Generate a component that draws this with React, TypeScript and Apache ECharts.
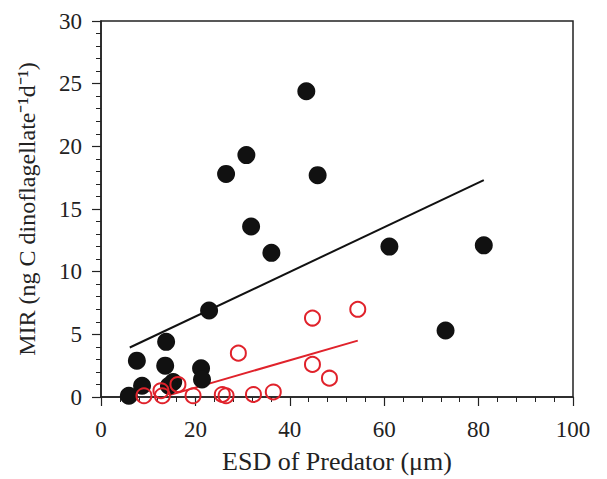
import React, { useEffect, useRef } from "react";
import * as echarts from "echarts";

const xTicks = [0, 20, 40, 60, 80, 100];
const yTicks = [0, 5, 10, 15, 20, 25, 30];

// Black filled circles: [ESD, MIR]
const blackPoints: number[][] = [
  [5.9, 0.1], [7.6, 2.9], [8.7, 0.9], [13.8, 4.4], [13.6, 2.5],
  [15.3, 1.2], [14.4, 0.9], [21.2, 2.3], [21.4, 1.4], [22.9, 6.9],
  [26.5, 17.8], [30.8, 19.3], [31.8, 13.6], [36.1, 11.5], [43.5, 24.4],
  [45.9, 17.7], [61.1, 12.0], [73.0, 5.3], [81.1, 12.1],
];

// Red open circles: [ESD, MIR]
const redPoints: number[][] = [
  [9.1, 0.1], [12.7, 0.5], [13.0, 0.1], [16.3, 1.0], [19.5, 0.1],
  [25.7, 0.2], [26.5, 0.1], [29.1, 3.5], [32.3, 0.2], [36.5, 0.4],
  [44.8, 6.3], [54.4, 7.0], [44.8, 2.6], [48.4, 1.5],
];

// Regression lines (endpoints)
const blackFit: number[][] = [[6.1, 3.95], [81.1, 17.3]];
const redFit: number[][] = [[14.5, 0.15], [54.4, 4.5]];

const FONT = "'Liberation Serif', 'Times New Roman', serif";
const RED = "#e0222b";

export default function App() {
  const ref = useRef<HTMLDivElement>(null);
  useEffect(() => {
    if (!ref.current) return;
    const chart = echarts.init(ref.current, null, { renderer: "svg" });
    const axisCommon = {
      axisLine: { show: true, lineStyle: { color: "#222", width: 1.5 } },
      axisTick: { show: true, inside: false, length: 9, lineStyle: { color: "#222", width: 1.2 } },
      minorTick: { show: true, splitNumber: 5, length: 5, lineStyle: { color: "#222", width: 1 } },
      splitLine: { show: false },
    };
    chart.setOption({
      animation: false,
      backgroundColor: "#fff",
      grid: {
        left: 101, right: 34, top: 21, bottom: 81,
        show: true, borderColor: "#222", borderWidth: 1.5,
        backgroundColor: "transparent",
      },
      xAxis: {
        type: "value", min: xTicks[0], max: xTicks[xTicks.length - 1], interval: 20,
        ...axisCommon,
        axisLabel: { fontFamily: FONT, fontSize: 23, color: "#222", margin: 21 },
        name: "ESD of Predator (\u03bcm)",
        nameLocation: "middle", nameGap: 51,
        nameTextStyle: { fontFamily: FONT, fontSize: 26, color: "#222" },
      },
      yAxis: {
        type: "value", min: yTicks[0], max: yTicks[yTicks.length - 1], interval: 5,
        ...axisCommon,
        axisLabel: { fontFamily: FONT, fontSize: 23, color: "#222", margin: 19 },
        name: "MIR (ng C dinoflagellate\u207b\u00b9d\u207b\u00b9)",
        nameLocation: "middle", nameGap: 62,
        nameTextStyle: { fontFamily: FONT, fontSize: 24, color: "#222" },
      },
      series: [
        {
          type: "line", data: blackFit, symbol: "none",
          lineStyle: { color: "#111", width: 2 }, z: 2,
        },
        {
          type: "line", data: redFit, symbol: "none",
          lineStyle: { color: RED, width: 2 }, z: 2,
        },
        {
          type: "scatter", data: blackPoints, symbol: "circle", symbolSize: 18,
          itemStyle: { color: "#111", opacity: 1 }, z: 3,
        },
        {
          type: "scatter", data: redPoints, symbol: "circle", symbolSize: 15,
          itemStyle: { color: "transparent", borderColor: RED, borderWidth: 2, opacity: 1 }, z: 4,
        },
      ],
    });
    return () => chart.dispose();
  }, []);
  return (
    <div
      ref={ref}
      style={{ position: "fixed", left: 0, top: 0, width: 607, height: 479 }}
    />
  );
}
